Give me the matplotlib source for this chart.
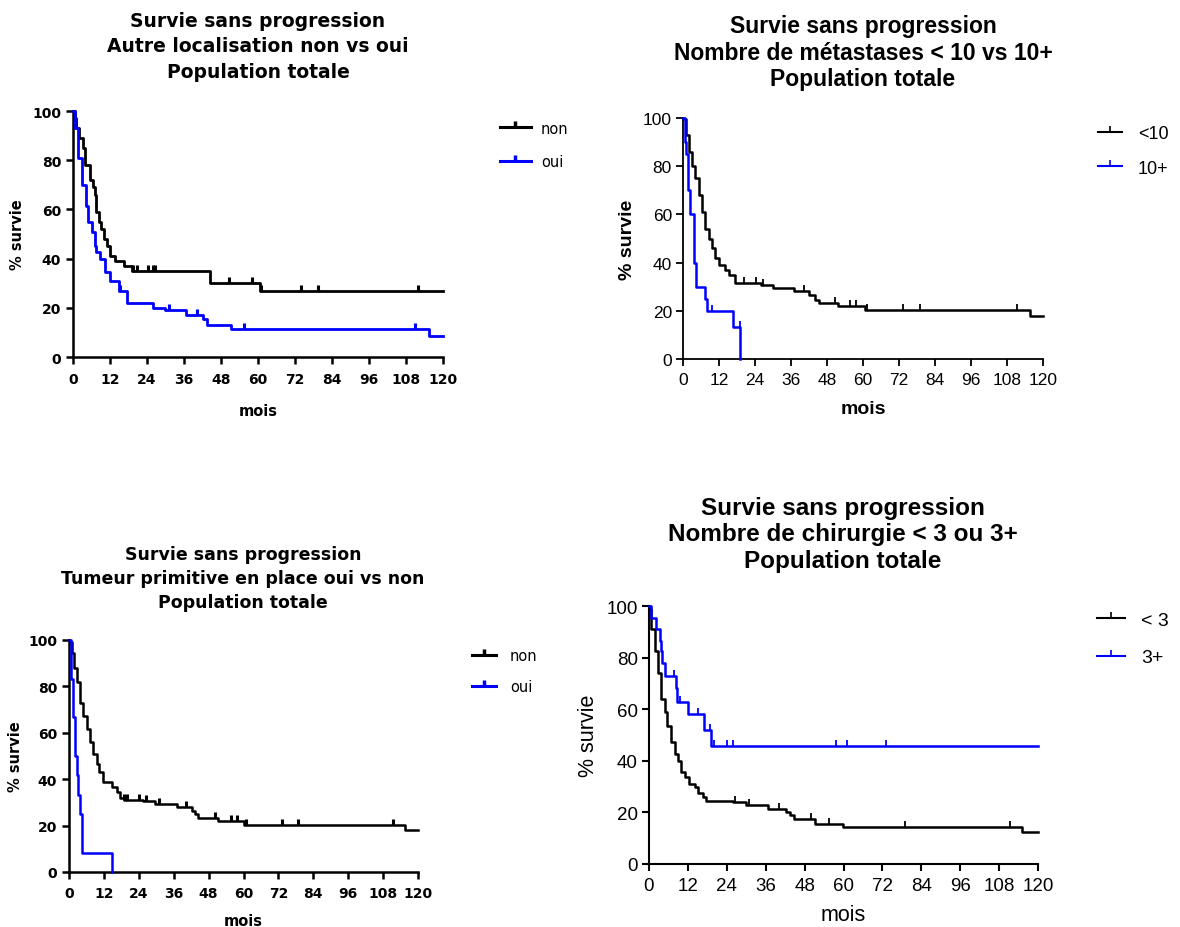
import numpy as np
import matplotlib
matplotlib.use("Agg")
import matplotlib.pyplot as plt
from matplotlib.lines import Line2D

W, H = 1180, 928
months = [0, 12, 24, 36, 48, 60, 72, 84, 96, 108, 120]
pcts = [0, 20, 40, 60, 80, 100]

# --- panel 1 : Autre localisation non vs oui
p1_non_t = [0, 0.5, 1, 2, 3.3, 4, 5.5, 6.5, 7, 7.5, 8.5, 9, 10, 11, 12, 13.5, 16.5, 19, 44.5, 60.5, 120]
p1_non_s = [100, 97, 93, 89, 85, 78, 72, 69, 66, 59, 55, 52, 48, 45, 41, 39, 37, 35, 30, 27, 27]
p1_non_c = [19.3, 20.6, 24.4, 25.8, 26.5, 50.5, 58, 61, 74, 79.5, 111.8]
p1_oui_t = [0, 0.8, 1.7, 3, 4.1, 4.9, 6, 7, 7.6, 8.7, 10.3, 12, 14.9, 17.4, 25.8, 29.8, 36.8, 42.2, 43.5, 51.4, 115.4, 120]
p1_oui_s = [100, 93, 81, 70, 61.5, 55, 51, 45, 42.5, 40, 34.5, 31, 27, 22, 20, 19, 17, 15.4, 13, 11.3, 8.6, 8.6]
p1_oui_c = [15.2, 31.2, 40.3, 55.6, 111]

# --- panel 2 : Nombre de metastases < 10 vs 10+
p2_lt10_t = [0, 0.4, 1.1, 1.9, 3, 4.1, 5.2, 6.3, 7.4, 8.5, 9.6, 10.8, 11.9, 14.1, 15.2, 17.4, 26, 30, 37, 42, 44, 45.3, 51.5, 60.5, 115.5, 120]
p2_lt10_s = [100, 99.5, 93, 86, 80, 75, 68, 61, 54, 50, 46, 42, 39, 37, 35, 31.5, 30.5, 29.5, 28.3, 26.5, 24.5, 23.3, 22, 20.5, 18, 18]
p2_lt10_c = [20.4, 24.3, 26.5, 40.4, 50.5, 55.7, 57.7, 61.2, 73.2, 79, 111.3]
p2_10p_t = [0, 0.5, 1, 1.8, 2.3, 3.5, 4.3, 7.3, 8, 16.6, 19.1]
p2_10p_s = [100, 90, 85, 70, 60, 40, 30, 25, 20, 13.3, 0]
p2_10p_c = [9.6, 18.9]

# --- panel 3 : Tumeur primitive en place oui vs non
p3_non_t = [0, 0.3, 0.9, 1.7, 2.6, 3.8, 4.9, 6.1, 7.2, 8.4, 9.5, 10.3, 11.8, 14.7, 16.4, 17.6, 18.9, 25.6, 29.6, 37, 42.2, 43.4, 44.5, 51.4, 60, 115.6, 120]
p3_non_s = [100, 99, 94.6, 88, 81.7, 73, 67.3, 61.6, 55.9, 50.9, 46.6, 43, 38.7, 36.5, 34.4, 31.8, 31.1, 30.4, 29.1, 27.9, 26.5, 25.1, 23.2, 21.9, 20.3, 18.3, 18.3]
p3_non_c = [18.9, 19.8, 24.2, 26.4, 31.1, 40.3, 50.2, 55.6, 57.7, 60.9, 73.2, 78.9, 111.3]
p3_oui_t = [0, 0.6, 1.5, 1.9, 2.6, 3, 3.8, 4.4, 14.9]
p3_oui_s = [100, 83.3, 66.7, 50, 41.7, 33.3, 25, 8.3, 0]

# --- panel 4 : Nombre de chirurgie < 3 ou 3+
p4_lt3_t = [0, 0.2, 0.7, 1.7, 2.8, 3.8, 4.8, 5.7, 6.7, 7.9, 8.9, 10, 11, 12.3, 14.1, 15.1, 16.7, 17.7, 25.9, 30, 36.7, 42.4, 43.6, 44.6, 51.1, 59.8, 115, 120]
p4_lt3_s = [100, 99, 91, 82.6, 74.2, 63.9, 58.8, 53.6, 47.2, 42.7, 40.1, 35.6, 33.6, 31.1, 29.8, 27.6, 25.9, 24.6, 24, 22.7, 21.4, 20.1, 18.8, 17.3, 15.5, 14.4, 12.4, 12.4]
p4_lt3_c = [26.4, 31, 40.1, 50.1, 55.5, 78.9, 111.3]
p4_3p_t = [0, 0.7, 2.1, 3.3, 3.8, 4.1, 4.8, 8.2, 8.6, 12, 17, 19.2, 120]
p4_3p_s = [100, 95.5, 91.2, 86.5, 82.6, 77.8, 72.9, 68.4, 62.9, 58.1, 52.1, 45.9, 45.9]
p4_3p_c = [7.6, 9.5, 15.1, 18.9, 20, 24.2, 25.9, 57.8, 61.2, 73.2]


def rect(l, t, r, b):
    return [l / W, 1 - b / H, (r - l) / W, (b - t) / H]


def surv_at(t, times, surv):
    i = np.searchsorted(times, t, side="right") - 1
    return surv[i]


def km(ax, times, surv, cens, color, lw, ms, mew):
    ax.step(times, surv, where="post", color=color, lw=lw, clip_on=False, zorder=3)
    if cens:
        ys = [surv_at(c, times, surv) for c in cens]
        ax.plot(cens, ys, ls="none", marker=2, color=color, ms=ms, mew=mew, clip_on=False, zorder=4)


def setup(ax, font, bold, tsize, spw, xpad, ypad, xl_dy, yl_dx, lsize, lweight):
    ax.set_xlim(0, 120)
    ax.set_ylim(0, 100)
    ax.set_xticks(months)
    ax.set_yticks(pcts)
    for s in ["top", "right"]:
        ax.spines[s].set_visible(False)
    for s in ["left", "bottom"]:
        ax.spines[s].set_linewidth(spw)
    ax.tick_params(axis="both", length=5, width=spw, color="black")
    ax.tick_params(axis="x", pad=xpad)
    ax.tick_params(axis="y", pad=ypad)
    for lab in ax.get_xticklabels() + ax.get_yticklabels():
        lab.set_fontfamily(font)
        lab.set_fontweight("bold" if bold else "normal")
        lab.set_fontsize(tsize)
    ax.set_xlabel("mois", family=font, fontsize=lsize, fontweight=lweight, va="center")
    ax.set_ylabel("% survie", family=font, fontsize=lsize, fontweight=lweight, va="center")
    bb = ax.get_position()
    ax.xaxis.set_label_coords(0.5, -xl_dy / (bb.height * H))
    ax.yaxis.set_label_coords(-yl_dx / (bb.width * W), 0.5)


def legend(ax, labels, colors, x, y, font, size, hl, pad, ls, lw, ms, mew):
    handles = [Line2D([0], [0], color=c, lw=lw, marker=2, ms=ms, mew=mew) for c in colors]
    ax.legend(handles, labels, loc="center left", bbox_to_anchor=(x / W, 1 - y / H),
              bbox_transform=fig.transFigure, frameon=False, numpoints=1,
              handlelength=hl, handletextpad=pad, labelspacing=ls, borderpad=0,
              borderaxespad=0, prop={"family": font, "size": size})


def title(text, x, y, font, size, ls):
    fig.text(x / W, 1 - y / H, text, ha="center", va="center", multialignment="center",
             family=font, fontsize=size, fontweight="bold", linespacing=ls)


fig = plt.figure(figsize=(W / 100, H / 100), dpi=100)
blue = "#0000ff"

# panel 1
ax1 = fig.add_axes(rect(73, 112, 443, 358))
km(ax1, p1_non_t, p1_non_s, p1_non_c, "black", 2.0, 4, 2.2)
km(ax1, p1_oui_t, p1_oui_s, p1_oui_c, blue, 2.0, 4, 2.2)
setup(ax1, "DejaVu Sans", True, 10, 1.8, 6, 3.5, 53, 55, 10.5, "bold")
legend(ax1, ["non", "oui"], ["black", blue], 500, 146, "DejaVu Sans", 10.5, 2.1, 0.7, 1.3, 2.2, 4, 2.5)
title("Survie sans progression\nAutre localisation non vs oui\nPopulation totale",
      258, 47, "DejaVu Sans", 13.5, 1.45)

# panel 2
ax2 = fig.add_axes(rect(683, 119, 1043, 360))
km(ax2, p2_lt10_t, p2_lt10_s, p2_lt10_c, "black", 1.8, 4, 1.3)
km(ax2, p2_10p_t, p2_10p_s, p2_10p_c, blue, 1.8, 4, 1.3)
setup(ax2, "Liberation Sans", False, 12.5, 1.3, 4.5, 3, 49, 55, 14, "bold")
legend(ax2, ["<10", "10+"], ["black", blue], 1098, 152, "Liberation Sans", 13, 1.35, 0.85, 0.95, 1.5, 4, 1.2)
title("Survie sans progression\nNombre de métastases < 10 vs 10+\nPopulation totale",
      863, 53, "Liberation Sans", 16.5, 1.18)

# panel 3
ax3 = fig.add_axes(rect(69, 641, 418, 873))
km(ax3, p3_non_t, p3_non_s, p3_non_c, "black", 1.8, 4, 2.2)
km(ax3, p3_oui_t, p3_oui_s, None, blue, 1.8, 4, 2.2)
setup(ax3, "DejaVu Sans", True, 10, 1.8, 5, 3.5, 49, 53, 10.5, "bold")
legend(ax3, ["non", "oui"], ["black", blue], 472, 672, "DejaVu Sans", 10.5, 1.65, 0.95, 1.1, 2.2, 4, 2.5)
title("Survie sans progression\nTumeur primitive en place oui vs non\nPopulation totale",
      243, 579, "DejaVu Sans", 12.5, 1.45)

# panel 4
ax4 = fig.add_axes(rect(649, 607, 1038, 865))
km(ax4, p4_lt3_t, p4_lt3_s, p4_lt3_c, "black", 1.8, 4, 1.3)
km(ax4, p4_3p_t, p4_3p_s, p4_3p_c, blue, 1.8, 4, 1.3)
setup(ax4, "Liberation Sans", False, 13.5, 1.5, 4.5, 3, 51, 60, 15.5, "normal")
legend(ax4, ["< 3", "3+"], ["black", blue], 1097, 640, "Liberation Sans", 14, 1.45, 0.8, 1.0, 1.5, 4, 1.2)
title("Survie sans progression\nNombre de chirurgie < 3 ou 3+\nPopulation totale",
      843, 535, "Liberation Sans", 17.5, 1.22)

fig.savefig("out.png", dpi=100, facecolor="white")
